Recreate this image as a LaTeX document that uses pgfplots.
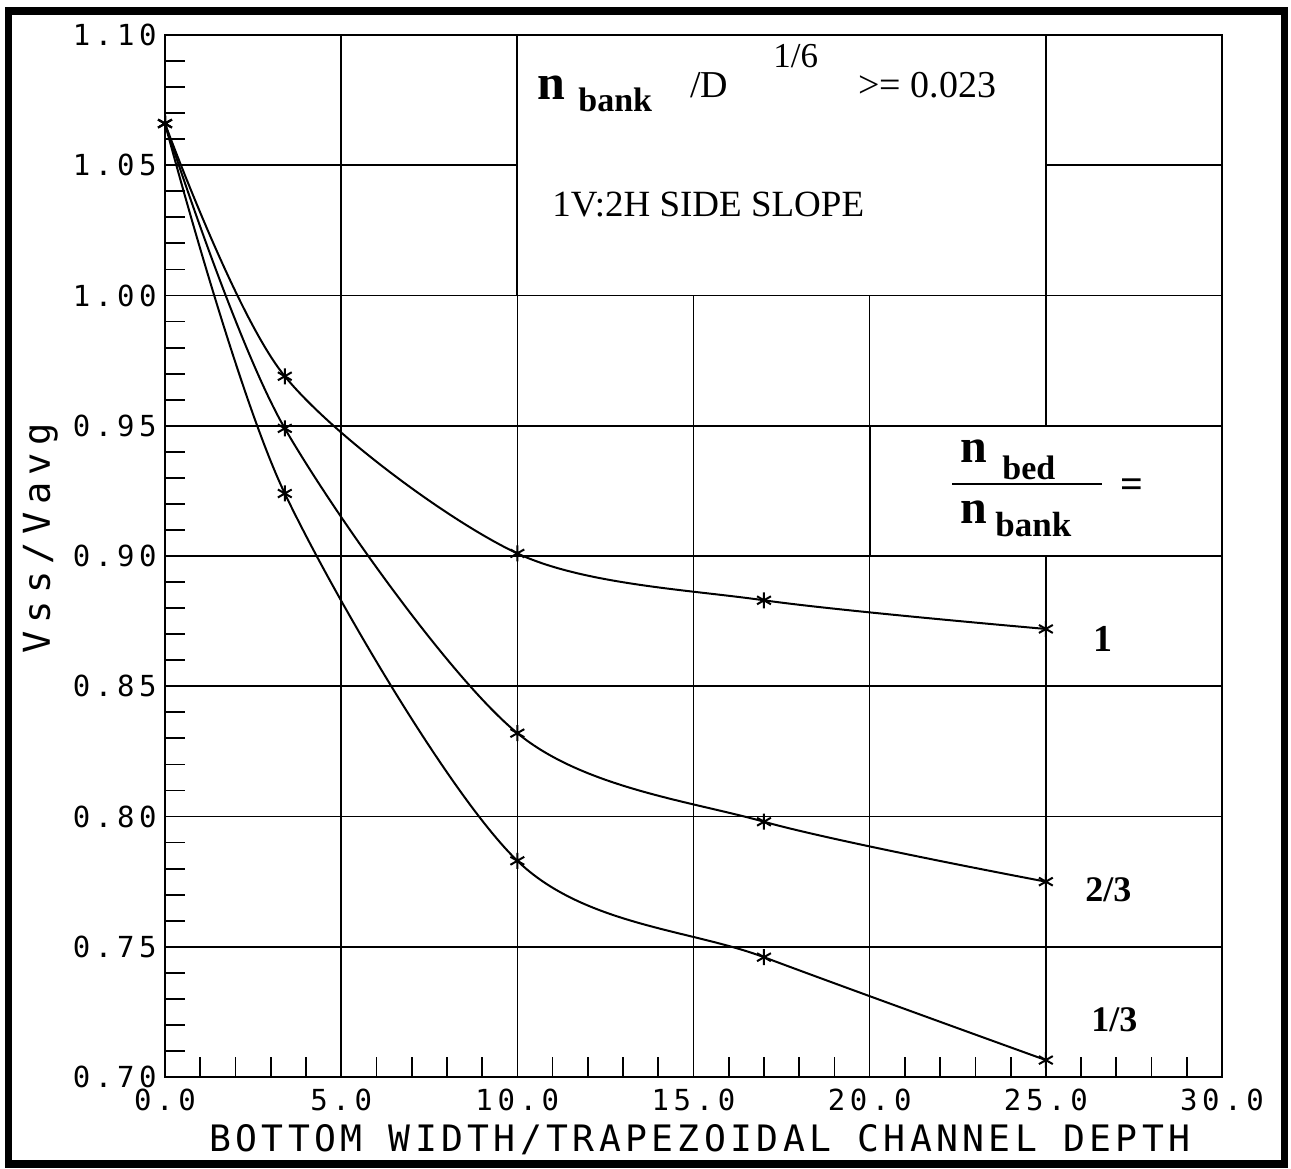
\documentclass[border=0pt]{standalone}
\usepackage{fontspec}
\setmainfont{Liberation Serif}
\newfontfamily\labf[LetterSpace=12]{DejaVu Sans Mono}
\newfontfamily\ylabf[LetterSpace=20]{DejaVu Sans Mono}
\newfontfamily\tickf[LetterSpace=16]{DejaVu Sans Mono}
\usepackage{pgfplots}
\pgfplotsset{compat=1.18}
\pgfplotsset{curve/.style={black, line width=1bp, smooth, tension=0.5, mark=asterisk, mark size=4bp, mark options={line width=1bp, solid}}}

\begin{document}
\begin{tikzpicture}
\begin{axis}[
  scale only axis,
  width=528.5bp, height=521bp,
  xmin=0, xmax=30, ymin=0.70, ymax=1.10,
  xtick={0,5,10,15,20,25,30},
  ytick={0.70,0.75,0.80,0.85,0.90,0.95,1.00,1.05,1.10},
  xticklabels={0.0,5.0,10.0,15.0,20.0,25.0,30.0},
  yticklabels={0.70,0.75,0.80,0.85,0.90,0.95,1.00,1.05,1.10},
  minor x tick num=4, minor y tick num=4,
  tick pos=left, tick align=inside,
  major tick length=0pt, minor tick length=10bp,
  grid=major,
  major grid style={black, line width=0.8bp},
  axis line style={line width=1bp},
  minor tick style={line width=0.9bp, black},
  ticklabel style={font=\tickf\fontsize{14.5bp}{15bp}\selectfont},
  xticklabel style={anchor=north, inner sep=0pt, yshift=-6bp},
  yticklabel style={anchor=east, inner sep=0pt, xshift=-4bp},
  xlabel={BOTTOM WIDTH/TRAPEZOIDAL CHANNEL DEPTH},
  ylabel={Vss/Vavg},
  xlabel style={font=\labf\fontsize{18.2bp}{19bp}\selectfont, at={(axis description cs:0.506,-0.0605)}, anchor=center},
  ylabel style={font=\ylabf\fontsize{18.5bp}{19bp}\selectfont, at={(axis description cs:-0.118,0.517)}, anchor=center},
  clip=false,
]
\addplot[curve] coordinates {(0,1.066) (3.4,0.969) (10,0.901) (17,0.883) (25,0.872)};
\addplot[curve] coordinates {(0,1.066) (3.4,0.949) (10,0.832) (17,0.798) (25,0.775)};
\addplot[curve] coordinates {(0,1.066) (3.4,0.924) (10,0.783) (17,0.746) (25,0.7065)};
\fill[white] (axis cs:10,1.00) rectangle (axis cs:25,1.10);
\draw[line width=0.9bp] (axis cs:10,1.00) rectangle (axis cs:25,1.10);
\fill[white] (axis cs:20,0.90) rectangle (axis cs:30,0.95);
\draw[line width=0.9bp] (axis cs:20,0.90) rectangle (axis cs:30,0.95);
\end{axis}
\begin{scope}[shift={(current axis.south west)}, shift={(-82.5bp,538.5bp)}, x=0.5bp, y=-0.5bp]
  \draw[line width=3.8bp] (8.5,11) rectangle (1284.5,1164);
  % top box text
  \node[anchor=base west, inner sep=0pt, font=\bfseries\fontsize{25bp}{25bp}\selectfont] at (537,100) {n};
  \node[anchor=base west, inner sep=0pt, font=\bfseries\fontsize{17bp}{17bp}\selectfont] at (578,112) {bank};
  \node[anchor=base west, inner sep=0pt, font=\fontsize{19bp}{19bp}\selectfont] at (690,98) {/D};
  \node[anchor=base west, inner sep=0pt, font=\fontsize{17.5bp}{17.5bp}\selectfont] at (773,68) {1/6};
  \node[anchor=base west, inner sep=0pt, font=\fontsize{19bp}{19bp}\selectfont] at (858,98) {>= 0.023};
  \node[anchor=base west, inner sep=0pt, font=\fontsize{18.5bp}{18.5bp}\selectfont] at (552,217) {1V:2H SIDE SLOPE};
  % legend box
  \node[anchor=base west, inner sep=0pt, font=\bfseries\fontsize{24bp}{24bp}\selectfont] at (960,463) {n};
  \node[anchor=base west, inner sep=0pt, font=\bfseries\fontsize{17bp}{17bp}\selectfont] at (1002,480) {bed};
  \draw[line width=1.2bp] (952,484) -- (1102,484);
  \node[anchor=base west, inner sep=0pt, font=\bfseries\fontsize{24bp}{24bp}\selectfont] at (960,524) {n};
  \node[anchor=base west, inner sep=0pt, font=\bfseries\fontsize{17.5bp}{17.5bp}\selectfont] at (995,537) {bank};
  \node[inner sep=0pt, font=\bfseries\fontsize{20bp}{20bp}\selectfont] at (1132,488) {=};
  % curve labels
  \node[anchor=base west, inner sep=0pt, font=\bfseries\fontsize{19bp}{19bp}\selectfont] at (1093,652) {1};
  \node[anchor=base west, inner sep=0pt, font=\bfseries\fontsize{18bp}{18bp}\selectfont] at (1085,902) {2/3};
  \node[anchor=base west, inner sep=0pt, font=\bfseries\fontsize{18bp}{18bp}\selectfont] at (1091,1032) {1/3};
  \pgfresetboundingbox
  \path (0,0) rectangle (1291,1169);
\end{scope}
\end{tikzpicture}
\end{document}
